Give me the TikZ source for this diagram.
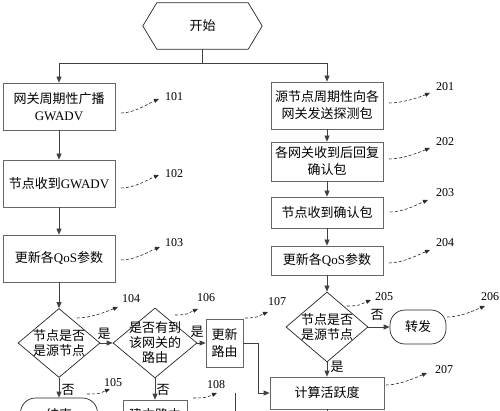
\documentclass[tikz,border=0pt]{standalone}
\usepackage{fontspec}
\setmainfont{Liberation Serif}
\newfontfamily\cjk{Noto Sans CJK SC}
\usetikzlibrary{arrows.meta,shapes.geometric,calc}
\newcommand\dlab[7]{%
  \draw[dsh] (#1,#2) .. controls +(14,0) and +(-10,4) .. (#3,#4);
  \node[num] (n#7) at (#5,#6) {#7};}
\begin{document}
\begin{tikzpicture}[x=1pt,y=-1pt,
  font=\fontsize{13}{17}\selectfont,
  box/.style={draw=black!60,line width=0.7pt,rectangle,inner sep=0pt,align=center},
  dia/.style={draw=black!85,line width=0.7pt,diamond,inner sep=0pt},
  term/.style={draw=black!85,line width=0.7pt,rectangle,rounded corners=15pt,inner sep=0pt},
  dtext/.style={align=center,inner sep=0pt,font=\fontsize{13}{15}\selectfont},
  arr/.style={draw=black!75,line width=0.7pt,-{Triangle[length=6pt,width=5pt]}},
  ln/.style={draw=black!75,line width=0.7pt},
  dsh/.style={draw=black!85,line width=0.6pt,densely dashed,-{Triangle[length=5pt,width=4pt]}},
  num/.style={font=\fontsize{12}{14}\selectfont,inner sep=0pt},
  yn/.style={inner sep=0pt}
]
\useasboundingbox (0,0) rectangle (500,411);
\clip (0,0) rectangle (500,411);

% start
\node[minimum width=119pt,minimum height=46pt,inner sep=0pt] (start) at (202.5,26) {\cjk 开始};
\draw[line width=0.7pt,draw=black!85] (start.west) -- ($(start.north west)+(14,0)$) -- ($(start.north east)+(-14,0)$) -- (start.east) -- ($(start.south east)+(-14,0)$) -- ($(start.south west)+(14,0)$) -- cycle;

% left column
\node[box,minimum width=112pt,minimum height=47pt] (b101) at (59,106.5) {{\cjk 网关周期性广播}\\GWADV};
\node[box,minimum width=112pt,minimum height=47pt] (b102) at (59,183.5) {{\cjk 节点收到}GWADV};
\node[box,minimum width=112pt,minimum height=47pt] (b103) at (59,258.5) {{\cjk 更新各}QoS{\cjk 参数}};
\node[dia,minimum width=82pt,minimum height=69pt] (d104) at (59,343) {};
\node[dtext] (t104) at (d104) {\cjk 节点是否\\\cjk 是源节点};
\node[term,minimum width=77pt,minimum height=34pt] (e104) at (59,415) {\cjk 结束};
\node[dia,minimum width=84pt,minimum height=70pt] (d106) at (155,343) {};
\node[dtext] (t106) at (d106) {\cjk 是否有到\\\cjk 该网关的\\\cjk 路由};
\node[box,minimum width=37pt,minimum height=48pt] (b107) at (224.5,343) {\cjk 更新\\\cjk 路由};
\node[box,minimum width=64pt,minimum height=30pt] (b108) at (155,415) {\cjk 建立路由};

% right column
\node[box,minimum width=112pt,minimum height=47pt] (b201) at (327,105.5) {{\cjk 源节点周期性向各}\\{\cjk 网关发送探测包}};
\node[box,minimum width=112pt,minimum height=39pt] (b202) at (327,161.5) {{\cjk 各网关收到后回复}\\{\cjk 确认包}};
\node[box,minimum width=112pt,minimum height=31pt] (b203) at (327,212.5) {\cjk 节点收到确认包};
\node[box,minimum width=112pt,minimum height=29pt] (b204) at (327,260.5) {{\cjk 更新各}QoS{\cjk 参数}};
\node[dia,minimum width=82pt,minimum height=70pt] (d205) at (327,327) {};
\node[dtext] (t205) at (d205) {\cjk 节点是否\\\cjk 是源节点};
\node[term,minimum width=56pt,minimum height=34pt] (b206) at (418,327) {\cjk 转发};
\node[box,minimum width=114pt,minimum height=32pt] (b207) at (327,393) {\cjk 计算活跃度};

% connectors
\coordinate (split) at (202.5,63);
\draw[ln] (start.south) -- (split);
\draw[arr] (split) -| (b101.north);
\draw[arr] (split) -| (b201.north);
\draw[arr] (b101) -- (b102);
\draw[arr] (b102) -- (b103);
\draw[arr] (b103) -- (d104);
\draw[arr] (d104) -- (d106);
\draw[arr] (d104) -- (e104);
\draw[arr] (d106) -- (b107);
\draw[arr] (d106) -- (b108);
\draw[arr] (b107.east) -- ++(15,0) |- (b207.west);
\coordinate (join) at (235,393);
\draw[ln] (b108.south) -- ++(0,10) -| (join);
\draw[arr] (b201) -- (b202);
\draw[arr] (b202) -- (b203);
\draw[arr] (b203) -- (b204);
\draw[arr] (b204) -- (d205);
\draw[arr] (d205) -- (b206);
\draw[arr] (d205) -- (b207);
\coordinate (down207) at (327,430);
\draw[ln] (b207.south) -- (down207);

% yes / no
\node[yn] (y1) at (104,334) {\cjk 是};
\node[yn] (y2) at (197,332) {\cjk 是};
\node[yn] (n1) at (68,390) {\cjk 否};
\node[yn] (n2) at (163,390) {\cjk 否};
\node[yn] (n3) at (377,315) {\cjk 否};
\node[yn] (y3) at (337,367) {\cjk 是};

% step labels
\dlab{121}{113}{159}{99}{174}{97}{101}
\dlab{121}{188}{159}{175}{174}{174}{102}
\dlab{121}{260}{160}{247}{174}{243}{103}
\dlab{77}{318}{118}{307}{131}{299}{104}
\dlab{87}{394}{110}{389}{113}{383}{105}
\dlab{175}{315}{198}{309}{206}{298}{106}
\dlab{245}{318}{268}{312}{277}{302}{107}
\dlab{193}{398}{217}{393}{216}{385}{108}
\dlab{389}{103}{430}{93}{445}{87}{201}
\dlab{389}{159}{430}{148}{445}{142}{202}
\dlab{390}{212}{428}{200}{445}{193}{203}
\dlab{389}{263}{430}{250}{445}{243}{204}
\dlab{347}{306}{371}{300}{384}{297}{205}
\dlab{447}{317}{485}{306}{490}{297}{206}
\dlab{386}{385}{427}{373}{444}{370}{207}
\dlab{386}{428}{427}{418}{444}{416}{208}
\end{tikzpicture}
\end{document}
